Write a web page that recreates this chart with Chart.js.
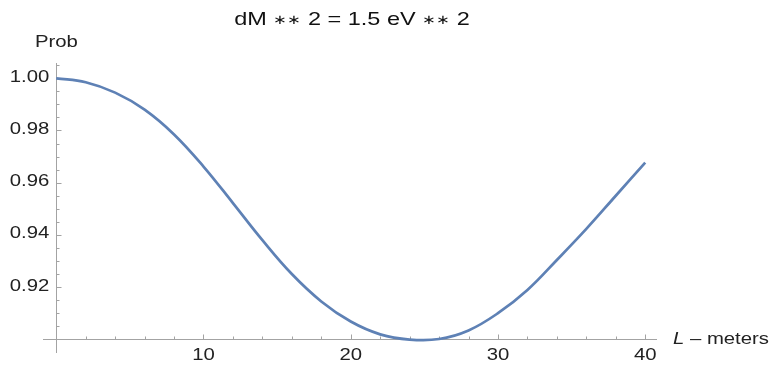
<!DOCTYPE html>
<html>
<head>
<meta charset="utf-8">
<script src="https://cdn.jsdelivr.net/npm/chart.js@4/dist/chart.umd.min.js"></script>
<style>
  html, body { margin: 0; padding: 0; background: #ffffff; }
  #wrap { width: 774px; height: 365px; position: relative; }
</style>
</head>
<body>
<div id="wrap"><canvas id="c"></canvas></div>
<script>
// Survival probability versus baseline length
const L_METERS = [0, 2, 4, 6, 8, 10, 12, 14, 16, 18, 20, 22, 24, 26, 28, 30, 32, 34, 36, 38, 40];
const PROB = [1.000, 0.9985, 0.9945, 0.9880, 0.9785, 0.9662, 0.9522, 0.9380, 0.9250, 0.9145,
              0.9068, 0.9019, 0.8999, 0.9001, 0.9034, 0.9100, 0.9189, 0.9304, 0.9423, 0.9550, 0.9677];

// Axis ticks
const X_MAJOR = [10, 20, 30, 40];
const X_MAJOR_LABELS = ['10', '20', '30', '40'];
const X_MINOR = [2, 4, 6, 8, 12, 14, 16, 18, 22, 24, 26, 28, 32, 34, 36, 38];
const Y_MAJOR = [0.92, 0.94, 0.96, 0.98, 1.00];
const Y_MAJOR_LABELS = ['0.92', '0.94', '0.96', '0.98', '1.00'];
const Y_MINOR = [0.905, 0.91, 0.915, 0.925, 0.93, 0.935, 0.945, 0.95, 0.955,
                 0.965, 0.97, 0.975, 0.985, 0.99, 0.995, 1.005];

// Texts
const TITLE = 'dM \u2217\u2217 2 = 1.5 eV \u2217\u2217 2';
const Y_NAME = 'Prob';
const X_NAME_VAR = 'L';
const X_NAME_REST = ' \u2013 meters';

// Axes cross at this point
const X_ORIGIN = 0;
const Y_ORIGIN = 0.90;

const FONT = '"Liberation Sans", Arial, Helvetica, sans-serif';
const TEXT_STRETCH = 1.27;
const AXIS_COLOR = '#a3a3a3';
const CURVE_COLOR = '#5e81b5';

function stretchedText(ctx, text, x, y, align, font, color) {
  ctx.save();
  ctx.translate(x, y);
  ctx.scale(TEXT_STRETCH, 1);
  ctx.font = font;
  ctx.fillStyle = color;
  ctx.textAlign = align;
  ctx.textBaseline = 'middle';
  ctx.fillText(text, 0, 0);
  ctx.restore();
}

// Title with the operator stars set smaller than the letters
function drawTitle(ctx, text, cx, cy, size, color) {
  const starSize = size * 0.72;
  const runs = [];
  let cur = '';
  let curStar = null;
  for (const ch of text) {
    const isStar = ch === '\u2217';
    if (curStar !== null && isStar !== curStar) { runs.push({ t: cur, star: curStar }); cur = ''; }
    cur += ch; curStar = isStar;
  }
  if (cur) runs.push({ t: cur, star: curStar });
  ctx.save();
  ctx.translate(cx, cy);
  ctx.scale(TEXT_STRETCH, 1);
  ctx.fillStyle = color;
  ctx.textBaseline = 'middle';
  ctx.textAlign = 'left';
  const widths = runs.map(r => { ctx.font = (r.star ? starSize : size) + 'px ' + FONT; return ctx.measureText(r.t).width; });
  let xPos = -widths.reduce((s, w) => s + w, 0) / 2;
  runs.forEach((r, i) => {
    ctx.font = (r.star ? starSize : size) + 'px ' + FONT;
    ctx.fillText(r.t, xPos, r.star ? 0.5 : 0);
    xPos += widths[i];
  });
  ctx.restore();
}

const mathAxes = {
  id: 'mathAxes',
  beforeDatasetsDraw(chart) {
    const { ctx, chartArea: a, scales: { x, y } } = chart;
    const x0 = Math.round(x.getPixelForValue(X_ORIGIN)) + 0.5;
    const y0 = Math.round(y.getPixelForValue(Y_ORIGIN)) + 0.5;
    ctx.save();
    ctx.strokeStyle = AXIS_COLOR;
    ctx.lineWidth = 1;
    ctx.beginPath();
    ctx.moveTo(a.left, y0); ctx.lineTo(a.right, y0);
    ctx.moveTo(x0, a.top); ctx.lineTo(x0, a.bottom);
    // x ticks point upward from the axis
    X_MAJOR.forEach(v => { const p = Math.round(x.getPixelForValue(v)) + 0.5; ctx.moveTo(p, y0); ctx.lineTo(p, y0 - 5); });
    X_MINOR.forEach(v => { const p = Math.round(x.getPixelForValue(v)) + 0.5; ctx.moveTo(p, y0); ctx.lineTo(p, y0 - 3); });
    // y ticks point right from the axis
    Y_MAJOR.forEach(v => { const p = Math.round(y.getPixelForValue(v)) + 0.5; ctx.moveTo(x0, p); ctx.lineTo(x0 + 5, p); });
    Y_MINOR.forEach(v => { const p = Math.round(y.getPixelForValue(v)) + 0.5; ctx.moveTo(x0, p); ctx.lineTo(x0 + 3, p); });
    ctx.stroke();
    ctx.restore();
  },
  afterDraw(chart) {
    const { ctx, chartArea: a, scales: { x, y } } = chart;
    const x0 = x.getPixelForValue(X_ORIGIN);
    const y0 = y.getPixelForValue(Y_ORIGIN);
    const tickFont = '16px ' + FONT;
    X_MAJOR.forEach((v, i) => stretchedText(ctx, X_MAJOR_LABELS[i], x.getPixelForValue(v), y0 + 16, 'center', tickFont, '#222'));
    Y_MAJOR.forEach((v, i) => stretchedText(ctx, Y_MAJOR_LABELS[i], x0 - 7, y.getPixelForValue(v) - 1, 'right', tickFont, '#222'));
    // axis names
    stretchedText(ctx, Y_NAME, 35, 43, 'left', '16px ' + FONT, '#222');
    ctx.save();
    ctx.translate(a.right + 16, y0);
    ctx.scale(TEXT_STRETCH, 1);
    ctx.fillStyle = '#222';
    ctx.textBaseline = 'middle';
    ctx.textAlign = 'left';
    ctx.font = 'italic 16px ' + FONT;
    ctx.fillText(X_NAME_VAR, 0, 0);
    const w = ctx.measureText(X_NAME_VAR).width;
    ctx.font = '16px ' + FONT;
    ctx.fillText(X_NAME_REST, w, 0);
    ctx.restore();
    // title, centred over the plot region
    drawTitle(ctx, TITLE, (a.left + a.right) / 2 + 2, 20, 18.5, '#111');
  }
};

new Chart(document.getElementById('c'), {
  type: 'line',
  data: {
    datasets: [{
      data: L_METERS.map((l, i) => ({ x: l, y: PROB[i] })),
      borderColor: CURVE_COLOR,
      borderWidth: 2.7,
      pointRadius: 0,
      fill: false,
      tension: 0.4
    }]
  },
  options: {
    responsive: true,
    maintainAspectRatio: false,
    animation: false,
    layout: { padding: { left: 43, right: 117, top: 63, bottom: 12 } },
    plugins: { legend: { display: false }, title: { display: false }, tooltip: { enabled: false } },
    scales: {
      x: { type: 'linear', display: false, min: -0.9, max: 40.8 },
      y: { type: 'linear', display: false, min: 0.89475, max: 1.00586 }
    }
  },
  plugins: [mathAxes]
});
</script>
</body>
</html>
